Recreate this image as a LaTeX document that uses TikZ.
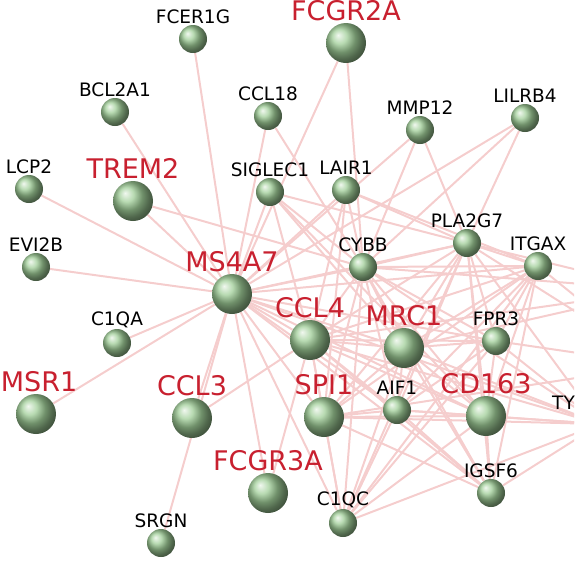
\documentclass[tikz,border=0pt]{standalone}
\usepackage{fontspec}
\setmainfont{DejaVu Sans}
\usepackage{tikz}
\usetikzlibrary{positioning, backgrounds}
\definecolor{linkpink}{HTML}{F5CDCD}
\definecolor{genegreen}{HTML}{A0CE98}
\definecolor{hubred}{HTML}{C8202F}
\tikzset{
  gene/.style={
    circle, inner sep=0pt, minimum size=28pt,
    shade, ball color=genegreen
  },
  hubgene/.style={gene, minimum size=40pt},
  genelabel/.style={
    inner sep=0pt, text=black, font=\fontsize{18.5}{18.5}\selectfont
  },
  hublabel/.style={
    inner sep=0pt, text=hubred, font=\fontsize{27}{27}\selectfont
  },
  link/.style={draw=linkpink, line width=2pt},
}

\begin{document}
\begin{tikzpicture}[x=1pt, y=-1pt]

  \path[use as bounding box] (0,0) rectangle (574,576);
  \clip (0,0) rectangle (574,576);

  % genes (small)
  \node[gene] (fcer1g) at (193,39) {};
  \node[gene] (bcl2a1) at (115,112) {};
  \node[gene] (ccl18) at (268,116) {};
  \node[gene] (mmp12) at (420,130) {};
  \node[gene] (lilrb4) at (525,118) {};
  \node[gene] (lcp2) at (29,189) {};
  \node[gene] (siglec1) at (270,192) {};
  \node[gene] (lair1) at (346,190) {};
  \node[gene] (evi2b) at (36,267) {};
  \node[gene] (cybb) at (363,267) {};
  \node[gene] (pla2g7) at (467,243) {};
  \node[gene] (itgax) at (538,266) {};
  \node[gene] (c1qa) at (117,343) {};
  \node[gene] (fpr3) at (496,341) {};
  \node[gene] (aif1) at (397,410) {};
  \node[gene] (tyrobp) at (600,424) {};
  \node[gene] (igsf6) at (491,493) {};
  \node[gene] (c1qc) at (343,523) {};
  \node[gene] (srgn) at (161,543) {};

  % genes (hubs)
  \node[hubgene] (fcgr2a) at (346,43) {};
  \node[hubgene] (trem2) at (133,201) {};
  \node[hubgene] (ms4a7) at (232,294) {};
  \node[hubgene] (ccl4) at (310,340) {};
  \node[hubgene] (mrc1) at (404,348) {};
  \node[hubgene] (msr1) at (36,414) {};
  \node[hubgene] (ccl3) at (192,418) {};
  \node[hubgene] (spi1) at (324,417) {};
  \node[hubgene] (cd163) at (486,416) {};
  \node[hubgene] (fcgr3a) at (268,493) {};

  % links leaving the frame
  \coordinate (offa) at (660,290);
  \coordinate (offb) at (660,365);

  % labels
  \foreach \g/\t in {fcer1g/FCER1G, bcl2a1/BCL2A1, ccl18/CCL18,
      mmp12/MMP12, lilrb4/LILRB4, lcp2/LCP2, siglec1/SIGLEC1,
      lair1/LAIR1, evi2b/EVI2B, cybb/CYBB, pla2g7/PLA2G7,
      itgax/ITGAX, c1qa/C1QA, fpr3/FPR3, aif1/AIF1, igsf6/IGSF6,
      c1qc/C1QC, srgn/SRGN}
    \node[genelabel, above=1pt of \g] (\g-l) {\t};
  \foreach \g/\t in {fcgr2a/FCGR2A, trem2/TREM2, ms4a7/MS4A7,
      ccl4/CCL4, mrc1/MRC1, ccl3/CCL3, spi1/SPI1,
      cd163/CD163, fcgr3a/FCGR3A}
    \node[hublabel, above=2pt of \g] (\g-l) {\t};
  \node[hublabel, above=2pt of msr1, xshift=3pt] (msr1-l) {MSR1};
  \node[genelabel, anchor=south west] (tyrobp-l) at (552,410) {TY};

  % links
  \begin{scope}[on background layer]
    \clip (0,0) rectangle (574,576);
    \foreach \b in {fcer1g, bcl2a1, trem2, lcp2, evi2b, c1qa, msr1,
        ccl3, srgn, fcgr3a, c1qc, spi1, ccl4, mrc1, aif1, cd163, fpr3,
        tyrobp, itgax, pla2g7, cybb, lair1, siglec1, ccl18, fcgr2a,
        mmp12, lilrb4, igsf6}
      \draw[link] (ms4a7) -- (\b);
    \foreach \a/\b in {trem2/cybb, ccl18/cybb, fcgr2a/cybb,
        siglec1/cybb, siglec1/pla2g7, siglec1/mrc1, siglec1/cd163,
        siglec1/ccl4, lair1/cybb, lair1/pla2g7, lair1/ccl4, lair1/spi1,
        lair1/itgax, mmp12/cybb, mmp12/pla2g7, lilrb4/cybb,
        lilrb4/pla2g7, ccl3/ccl4}
      \draw[link] (\a) -- (\b);
    \foreach \a/\b in {cybb/pla2g7, cybb/itgax, cybb/ccl4, cybb/mrc1,
        cybb/spi1, cybb/aif1, cybb/cd163, cybb/fpr3, cybb/c1qc,
        cybb/igsf6, cybb/tyrobp, cybb/offa,
        pla2g7/itgax, pla2g7/ccl4, pla2g7/mrc1, pla2g7/fpr3,
        pla2g7/cd163, pla2g7/aif1, pla2g7/spi1, pla2g7/c1qc,
        pla2g7/igsf6, pla2g7/tyrobp, pla2g7/offa, pla2g7/offb,
        itgax/ccl4, itgax/mrc1, itgax/spi1, itgax/aif1, itgax/cd163,
        itgax/fpr3, itgax/igsf6, itgax/c1qc, itgax/offb}
      \draw[link] (\a) -- (\b);
    \foreach \a/\b in {ccl4/mrc1, ccl4/spi1, ccl4/aif1, ccl4/cd163,
        ccl4/fpr3, ccl4/c1qc, ccl4/igsf6, ccl4/tyrobp, ccl4/fcgr3a,
        ccl4/offa, mrc1/spi1, mrc1/aif1, mrc1/cd163, mrc1/fpr3,
        mrc1/c1qc, mrc1/igsf6, mrc1/tyrobp, mrc1/offa,
        spi1/aif1, spi1/cd163, spi1/c1qc, spi1/igsf6, spi1/tyrobp,
        spi1/offb, aif1/cd163, aif1/c1qc, aif1/igsf6, aif1/tyrobp,
        aif1/fpr3, cd163/igsf6, cd163/c1qc, cd163/tyrobp, cd163/fpr3,
        fpr3/tyrobp, fpr3/c1qc, fpr3/offb, igsf6/tyrobp, c1qc/tyrobp}
      \draw[link] (\a) -- (\b);
  \end{scope}

\end{tikzpicture}
\end{document}
